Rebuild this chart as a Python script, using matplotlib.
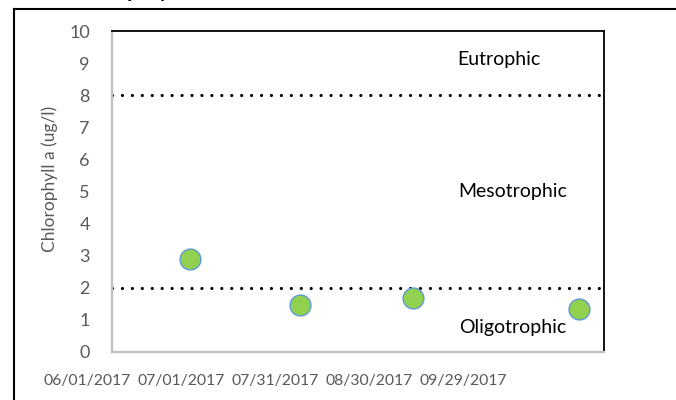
import matplotlib
matplotlib.use("Agg")
import matplotlib.pyplot as plt
import matplotlib.dates as mdates
from matplotlib.lines import Line2D
import datetime as dt

plt.rcParams['font.family'] = ['Lato', 'DejaVu Sans']

# Data
sample_dates = [dt.date(2017, 7, 4), dt.date(2017, 8, 8), dt.date(2017, 9, 13), dt.date(2017, 11, 5)]
chlorophyll = [2.9, 1.47, 1.68, 1.33]
tick_dates = [dt.date(2017, 6, 1), dt.date(2017, 7, 1), dt.date(2017, 7, 31), dt.date(2017, 8, 30), dt.date(2017, 9, 29)]
tick_labels = ["06/01/2017", "07/01/2017", "07/31/2017", "08/30/2017", "09/29/2017"]
thresholds = [2, 8]
zone_names = ["Eutrophic", "Mesotrophic", "Oligotrophic"]
zone_y = [9.1, 5.0, 0.75]

W, H = 676, 400
fig = plt.figure(figsize=(W / 100, H / 100), dpi=100)
ax = fig.add_axes([112 / W, 1 - 352 / H, (604 - 112) / W, (352 - 31) / H])

ax.set_xlim(mdates.date2num(dt.date(2017, 6, 9)), mdates.date2num(dt.date(2017, 11, 13)))
ax.set_ylim(0, 10)

for t in thresholds:
    ax.axhline(t, color='black', lw=2.3, linestyle=(0, (0.01, 3.1)), dash_capstyle='round', zorder=2)

ax.plot(mdates.date2num(sample_dates), chlorophyll, linestyle='none', marker='o', markersize=15,
        markerfacecolor='#92D050', markeredgecolor='#5B9BD5', markeredgewidth=1.0, zorder=3, clip_on=False)

x_zone = mdates.date2num(dt.date(2017, 10, 15))
for name, yv, xoff in zip(zone_names, zone_y, [-4.5, 0, 0]):
    ax.text(x_zone + xoff, yv, name, ha='center', va='center', fontsize=14, color='black')

ax.set_yticks(range(0, 11))
ax.tick_params(axis='y', length=0, labelsize=13, labelcolor='#595959', pad=16)
ax.set_xticks([])
for d, lab in zip(tick_dates, tick_labels):
    ax.text(mdates.date2num(d), -0.07, lab, transform=ax.get_xaxis_transform(), ha='center', va='top',
            fontsize=11.3, color='#595959', clip_on=False)

for s in ['top', 'right']:
    ax.spines[s].set_color('black')
    ax.spines[s].set_linewidth(1.3)
for s in ['left', 'bottom']:
    ax.spines[s].set_color('#BFBFBF')
    ax.spines[s].set_linewidth(1.6)

fig.text(50 / W, 1 - 179 / H, "Chlorophyll a (ug/l)", rotation=90, ha='center', va='center',
         fontsize=12.5, color='#595959')

# outer chart border (partially cropped)
fig.add_artist(Line2D([14 / W, 14 / W], [0, 1 - 9 / H], color='black', lw=1.5, transform=fig.transFigure))
fig.add_artist(Line2D([14 / W, 1], [1 - 9 / H, 1 - 9 / H], color='black', lw=1.5, transform=fig.transFigure))

# cropped title (only descenders visible, as in the reference)
fig.text(45 / W, 1 + 4 / H, "Chlorophyll", ha='left', va='baseline', fontsize=20, color='black')

fig.savefig("out.png", dpi=100)
